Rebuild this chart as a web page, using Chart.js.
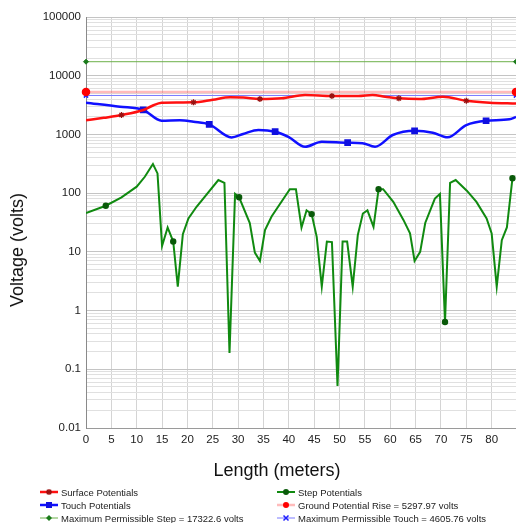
<!DOCTYPE html>
<html>
<head>
<meta charset="utf-8">
<title>Voltage profile</title>
<script src="https://cdn.jsdelivr.net/npm/chart.js@4.4.1/dist/chart.umd.min.js"></script>
<style>
  body { margin: 0; background: #fff; font-family: "Liberation Sans", Arial, sans-serif; }
  #wrap { position: relative; width: 516px; height: 523px; overflow: hidden; }
  #plot { position: absolute; left: 0; top: 0; }
  .axis-title { position: absolute; font-size: 18px; color: #111; white-space: nowrap; line-height: 20px; }
  #ytitle { left: 17px; top: 250px; transform: translate(-50%, -50%) rotate(-90deg); }
  #xtitle { left: 277px; top: 470px; transform: translate(-50%, -50%); }
  .lg { position: absolute; height: 12px; display: flex; align-items: center; font-size: 9.5px; color: #222; white-space: nowrap; }
  .lg svg { margin-right: 3px; }
</style>
</head>
<body>
<div id="wrap">
  <canvas id="plot" width="516" height="480"></canvas>
  <div class="axis-title" id="ytitle">Voltage (volts)</div>
  <div class="axis-title" id="xtitle">Length (meters)</div>
  <div id="legend"></div>
</div>
<script>
// limits (volts)
const groundPotentialRise = 5297.97;
const maxPermissibleStep = 17322.6;
const maxPermissibleTouch = 4605.76;

const xMax = 84.8;
const decadeValues = [0.01, 0.1, 1, 10, 100, 1000, 10000, 100000];
const decadeLabels = ['0.01', '0.1', '1', '10', '100', '1000', '10000', '100000'];

// surface potentials along the profile
const surfaceX = [0, 3.5, 7.0, 11.3, 13.0, 14.9, 18, 21.2, 25, 28.4, 31, 34.3, 38.6, 43.2, 48.5, 53.7, 56.5, 59, 61.7, 65.7, 70.4, 75.0, 79.6, 84.8];
const surfaceV = [1740, 1920, 2140, 2610, 3050, 3470, 3500, 3520, 3900, 4300, 4250, 4010, 4120, 4690, 4510, 4510, 4690, 4400, 4120, 4000, 4385, 3750, 3470, 3350];
const surfaceMarks = [7.0, 21.2, 34.3, 48.5, 61.7, 75.0];

// touch potentials
const touchX = [0, 6.7, 11.3, 14.9, 18.5, 21.2, 24.3, 28.7, 31, 34.0, 37.3, 40, 43.2, 46.5, 51.6, 54.5, 57.0, 60.5, 64.8, 68.4, 71.3, 75.0, 78.9, 83.5, 84.8];
const touchV = [3470, 2965, 2610, 1710, 1750, 1645, 1486, 890, 1020, 1190, 1112, 900, 617, 751, 722, 710, 617, 977, 1155, 1070, 893, 1445, 1710, 1807, 1990];
const touchMarks = [11.3, 24.3, 37.3, 51.6, 64.8, 78.9];

// step potentials
const stepX = [0, 3.9, 7.0, 10.0, 11.6, 13.2, 14.1, 15.0, 16.1, 17.2, 18.1, 19.1, 20.2, 21.8, 26.1, 27.3, 28.3, 29.4, 30.2, 32.3, 33.3, 34.3, 35.3, 36.6, 40.2, 41.4, 42.5, 43.5, 44.5, 45.5, 46.5, 47.5, 48.5, 49.6, 50.6, 51.5, 52.6, 53.6, 54.6, 55.5, 56.7, 57.7, 58.6, 60.6, 62.6, 63.9, 64.8, 65.9, 66.9, 68.8, 69.8, 70.8, 71.8, 72.9, 75.1, 77.0, 79.0, 80.0, 81.0, 82.0, 83.0, 84.1];
const stepV = [46, 61, 85, 129, 190, 313, 217, 12.6, 26, 15, 2.55, 20, 37, 58.6, 167, 150, 0.19, 97, 85, 31, 9.7, 7.0, 23.5, 40, 117, 117, 26, 51, 44, 18, 2.55, 15, 14.7, 0.052, 15, 15, 2.55, 19.3, 45, 51, 26.7, 117, 117, 71, 35, 20.6, 7.0, 10, 31, 81, 97, 0.64, 150, 167, 110, 71, 37, 20.6, 2.55, 15.8, 26, 179];
const stepMarks = [3.9, 17.2, 30.2, 44.5, 57.7, 70.8, 84.1];

const pts = (xs, vs) => xs.map((x, i) => ({ x, y: vs[i] }));
const level = v => [{ x: 0, y: v }, { x: xMax, y: v }];
const markAt = (xs, marks, r) => ctx => marks.includes(xs[ctx.dataIndex]) ? r : 0;

// minor log ticks 1..9 per decade
const logTicks = [];
decadeValues.forEach(d => {
  for (let k = 1; k <= 9; k++) {
    const v = +(d * k).toPrecision(3);
    if (v <= decadeValues[decadeValues.length - 1]) logTicks.push(v);
  }
});

const series = [
  { label: 'Surface Potentials', data: pts(surfaceX, surfaceV), borderColor: '#ff1010', borderWidth: 2.5,
    cubicInterpolationMode: 'monotone', pointStyle: 'star', pointRadius: markAt(surfaceX, surfaceMarks, 3),
    pointBorderColor: '#9a1010', pointBackgroundColor: '#9a1010', pointBorderWidth: 1.3 },
  { label: 'Touch Potentials', data: pts(touchX, touchV), borderColor: '#1010ff', borderWidth: 2.5,
    cubicInterpolationMode: 'monotone', pointStyle: 'rect', pointRadius: markAt(touchX, touchMarks, 3),
    pointBorderColor: '#1010e0', pointBackgroundColor: '#1010e0' },
  { label: 'Step Potentials', data: pts(stepX, stepV), borderColor: '#108a10', borderWidth: 2,
    tension: 0, pointStyle: 'circle', pointRadius: markAt(stepX, stepMarks, 2.2),
    pointBorderColor: '#0a5a0a', pointBackgroundColor: '#0a5a0a' },
  { label: 'Ground Potential Rise = ' + groundPotentialRise + ' volts', data: level(groundPotentialRise),
    borderColor: 'rgba(255,60,60,0.35)', borderWidth: 2.5, pointStyle: 'circle', pointRadius: 3,
    pointBorderColor: '#ff0000', pointBackgroundColor: '#ff0000', clip: false },
  { label: 'Maximum Permissible Step = ' + maxPermissibleStep + ' volts', data: level(maxPermissibleStep),
    borderColor: '#6cb04a', borderWidth: 1, pointStyle: 'rectRot', pointRadius: 2.5,
    pointBorderColor: '#1a7a1a', pointBackgroundColor: '#1a7a1a', clip: false },
  { label: 'Maximum Permissible Touch = ' + maxPermissibleTouch + ' volts', data: level(maxPermissibleTouch),
    borderColor: '#7a7aff', borderWidth: 1, pointStyle: 'crossRot', pointRadius: 3,
    pointBorderColor: '#2020ff', pointBorderWidth: 1.5, clip: false }
];

const tickFont = { family: '"Liberation Sans", Arial, sans-serif', size: 11.5 };

new Chart(document.getElementById('plot'), {
  type: 'line',
  data: { datasets: series.map(s => ({ ...s, fill: false })) },
  options: {
    responsive: false,
    animation: false,
    devicePixelRatio: 1,
    layout: { autoPadding: false, padding: { top: 17, right: 0, left: 0, bottom: 0 } },
    plugins: { legend: { display: false }, tooltip: { enabled: false } },
    scales: {
      x: {
        type: 'linear', min: 0, max: xMax,
        afterFit: s => { s.height = 52; },
        ticks: { stepSize: 5, includeBounds: false, padding: 5, color: '#222', font: tickFont, maxRotation: 0 },
        grid: { color: '#d4d4d4', drawTicks: false },
        border: { color: '#9a9a9a' }
      },
      y: {
        type: 'logarithmic', min: 0.01, max: 100000,
        afterFit: s => { s.width = 86; },
        afterBuildTicks: s => { s.ticks = logTicks.map(v => ({ value: v })); },
        ticks: {
          autoSkip: false, padding: 5, color: '#222', font: tickFont,
          callback: v => {
            const i = decadeValues.indexOf(v);
            return i >= 0 ? decadeLabels[i] : '';
          }
        },
        grid: {
          drawTicks: false,
          color: ctx => decadeValues.includes(ctx.tick && ctx.tick.value) ? '#c4c4c4' : '#e0e0e0'
        },
        border: { color: '#8a8a8a' }
      }
    }
  }
});

// legend, two columns of three rows
const legendOrder = [0, 1, 4, 2, 3, 5];
const legendCols = [40, 277];
const legendRows = [492, 505, 518];
const legendEl = document.getElementById('legend');

function sampleSvg(s) {
  const w = 18, h = 10, c = h / 2, m = w / 2;
  const lw = s.borderWidth;
  let marker = '';
  const mc = s.pointBackgroundColor || s.pointBorderColor;
  if (s.pointStyle === 'star') {
    marker = `<path d="M${m - 3} ${c}H${m + 3}M${m} ${c - 3}V${c + 3}M${m - 2.2} ${c - 2.2}L${m + 2.2} ${c + 2.2}M${m - 2.2} ${c + 2.2}L${m + 2.2} ${c - 2.2}" stroke="${s.pointBorderColor}" stroke-width="1.3"/>`;
  } else if (s.pointStyle === 'rect') {
    marker = `<rect x="${m - 3}" y="${c - 3}" width="6" height="6" fill="${mc}"/>`;
  } else if (s.pointStyle === 'rectRot') {
    marker = `<path d="M${m} ${c - 3}L${m + 3} ${c}L${m} ${c + 3}L${m - 3} ${c}Z" fill="${mc}"/>`;
  } else if (s.pointStyle === 'crossRot') {
    marker = `<path d="M${m - 2.5} ${c - 2.5}L${m + 2.5} ${c + 2.5}M${m - 2.5} ${c + 2.5}L${m + 2.5} ${c - 2.5}" stroke="${s.pointBorderColor}" stroke-width="1.5"/>`;
  } else {
    marker = `<circle cx="${m}" cy="${c}" r="3" fill="${mc}"/>`;
  }
  return `<svg width="${w}" height="${h}"><line x1="0" y1="${c}" x2="${w}" y2="${c}" stroke="${s.borderColor}" stroke-width="${lw}"/>${marker}</svg>`;
}

legendOrder.forEach((idx, k) => {
  const s = series[idx];
  const div = document.createElement('div');
  div.className = 'lg';
  div.style.left = legendCols[Math.floor(k / 3)] + 'px';
  div.style.top = (legendRows[k % 3] - 6) + 'px';
  div.innerHTML = sampleSvg(s) + '<span>' + s.label + '</span>';
  legendEl.appendChild(div);
});
</script>
</body>
</html>
